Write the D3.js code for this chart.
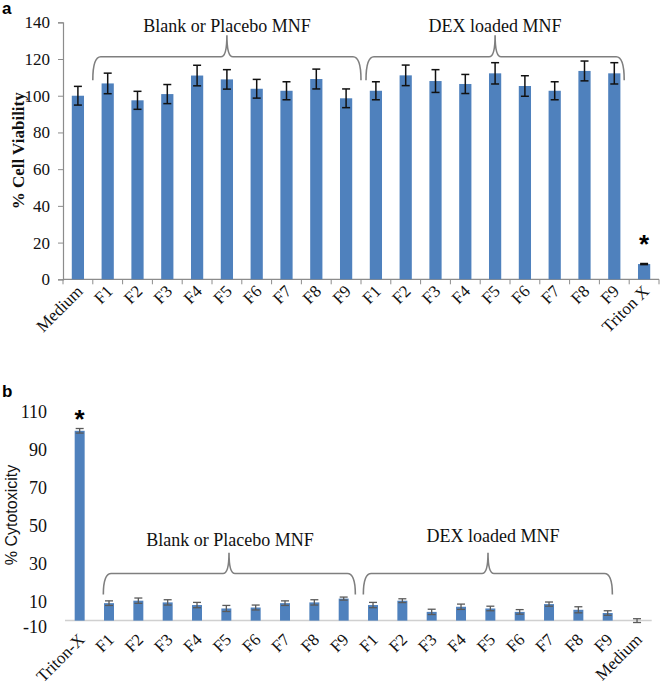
<!DOCTYPE html>
<html><head><meta charset="utf-8">
<script src="https://cdn.jsdelivr.net/npm/d3@7"></script>
<style>body{margin:0;background:#fff}</style>
</head><body>
<script>
// ---------- Data ----------
const catsA = ["Medium","F1","F2","F3","F4","F5","F6","F7","F8","F9","F1","F2","F3","F4","F5","F6","F7","F8","F9","Triton X"];
const valsA = [100,106.7,97.5,100.9,111,108.9,103.8,102.7,109.1,98.6,102.7,111.1,108,106.4,112.2,105.3,102.7,113.5,112.2,8.3];
const errA  = [5.1,5.6,4.9,5.2,5.6,5.3,5.1,4.9,5.4,5.1,4.9,5.6,6.2,5.2,5.8,5.6,4.9,5.4,5.8,0.3];
const ticksA = [0,20,40,60,80,100,120,140];

const catsB = ["Triton-X","F1","F2","F3","F4","F5","F6","F7","F8","F9","F1","F2","F3","F4","F5","F6","F7","F8","F9","Medium"];
const valsB = [100,9.2,10.5,9.6,8.2,6.4,6.9,9.2,9.6,11.6,8.2,10.5,4.6,7.3,6.4,4.6,8.7,5.7,4.0,0];
const errB  = [1.2,1.2,1.4,1.4,1.4,1.6,1.3,1.2,1.4,0.8,1.4,1.0,1.4,1.4,1.2,1.2,1.1,1.6,1.2,1.0];
const ticksB = [-10,10,30,50,70,90,110];

const groupLabels = ["Blank or Placebo MNF","DEX loaded MNF"];

// ---------- Setup ----------
const W = 661, H = 685;
const svg = d3.select("body").append("svg").attr("width",W).attr("height",H)
  .style("font-family","'Liberation Serif','Times New Roman',serif");
const BAR = "#4f81bd";
const serif = "'Liberation Serif','Times New Roman',serif";

function brace(g, x0, x1, xm, yb, yh, yp){
  const p = d3.path();
  const r = 8;
  p.moveTo(x0, yb);
  p.quadraticCurveTo(x0, yh, x0 + r, yh);
  p.lineTo(xm - 6, yh);
  p.quadraticCurveTo(xm, yh, xm, yp);
  p.quadraticCurveTo(xm, yh, xm + 6, yh);
  p.lineTo(x1 - r, yh);
  p.quadraticCurveTo(x1, yh, x1, yb);
  g.append("path").attr("d", p.toString()).attr("fill","none")
    .attr("stroke","#7f7f7f").attr("stroke-width",1.6);
}

// ---------- Panel a ----------
{
  const idx = d3.range(catsA.length);
  const x = d3.scaleBand().domain(idx).range([63, 659]).paddingInner(0.59).paddingOuter(0.295);
  const xe = d3.scaleBand().domain(idx).range([63, 659]); // edges for ticks
  const y = d3.scaleLinear().domain([0,140]).range([279.3, 22.3]);
  const g = svg.append("g");

  // y axis
  const ya = g.append("g").attr("transform","translate(63,0)")
    .call(d3.axisLeft(y).tickValues(ticksA).tickSize(5).tickPadding(8));
  ya.select(".domain").attr("stroke","#8c8c8c").attr("stroke-width",1.2);
  ya.selectAll(".tick line").attr("stroke","#8c8c8c");
  ya.selectAll("text").attr("font-family",serif).attr("font-size",17).attr("fill","#111");

  // x axis line and ticks
  const xa = g.append("g").attr("transform",`translate(0,${y(0)})`);
  xa.append("line").attr("x1",63).attr("x2",659).attr("stroke","#8c8c8c").attr("stroke-width",1.2);
  xa.selectAll("line.t").data(d3.range(catsA.length+1)).join("line").attr("class","t")
    .attr("x1",d=> d<catsA.length ? xe(d) : xe(catsA.length-1)+xe.bandwidth())
    .attr("x2",d=> d<catsA.length ? xe(d) : xe(catsA.length-1)+xe.bandwidth())
    .attr("y1",0).attr("y2",5).attr("stroke","#8c8c8c");

  // bars
  g.selectAll("rect.bar").data(idx).join("rect").attr("class","bar")
    .attr("x",i=>x(i)).attr("width",x.bandwidth())
    .attr("y",i=>y(valsA[i])).attr("height",i=>y(0)-y(valsA[i])).attr("fill",BAR);

  // error bars
  const eb = g.selectAll("g.err").data(idx).join("g").attr("class","err")
    .attr("stroke","#111").attr("stroke-width",1.5);
  eb.append("line").attr("x1",i=>x(i)+x.bandwidth()/2).attr("x2",i=>x(i)+x.bandwidth()/2)
    .attr("y1",i=>y(valsA[i]+errA[i])).attr("y2",i=>y(valsA[i]-errA[i]));
  eb.append("line").attr("x1",i=>x(i)+x.bandwidth()/2-4).attr("x2",i=>x(i)+x.bandwidth()/2+4)
    .attr("y1",i=>y(valsA[i]+errA[i])).attr("y2",i=>y(valsA[i]+errA[i]));
  eb.append("line").attr("x1",i=>x(i)+x.bandwidth()/2-4).attr("x2",i=>x(i)+x.bandwidth()/2+4)
    .attr("y1",i=>y(valsA[i]-errA[i])).attr("y2",i=>y(valsA[i]-errA[i]));

  // x labels
  g.selectAll("text.xl").data(idx).join("text").attr("class","xl")
    .attr("transform",i=>`translate(${x(i)+x.bandwidth()/2+6},${y(0)+13}) rotate(-45)`)
    .attr("text-anchor","end").attr("font-size",17).attr("fill","#111").text(i=>catsA[i]);

  // asterisk
  const last = catsA.length-1;
  g.append("text").attr("x",x(last)+x.bandwidth()/2).attr("y",y(valsA[last])+3-14)
    .attr("text-anchor","middle").attr("font-family","'Liberation Sans',Arial,sans-serif")
    .attr("font-size",26).attr("font-weight","bold").text("*");

  // braces
  brace(g, xe(1), xe(9)+xe.bandwidth(), (xe(1)+xe(9)+xe.bandwidth())/2 - 0, y(108.5), y(121.2), y(133));
  brace(g, xe(10)+5, xe(18)+xe.bandwidth()-5, (xe(10)+xe(18)+xe.bandwidth())/2, y(108.5), y(121.2), y(133));
  g.append("text").attr("x",(xe(1)+xe(9)+xe.bandwidth())/2).attr("y",y(134.5))
    .attr("text-anchor","middle").attr("font-size",18).attr("fill","#111").text(groupLabels[0]);
  g.append("text").attr("x",(xe(10)+xe(18)+xe.bandwidth())/2).attr("y",y(134.5))
    .attr("text-anchor","middle").attr("font-size",18).attr("fill","#111").text(groupLabels[1]);

  // y title
  g.append("text").attr("transform",`translate(24,${y(70)}) rotate(-90)`)
    .attr("text-anchor","middle").attr("font-size",17).attr("font-weight","bold").attr("fill","#111")
    .text("% Cell Viability");
  // panel letter
  g.append("text").attr("x",2).attr("y",14).attr("font-family","'Liberation Sans',Arial,sans-serif")
    .attr("font-weight","bold").attr("font-size",17).text("a");
}

// ---------- Panel b ----------
{
  const idx = d3.range(catsB.length);
  const x = d3.scaleBand().domain(idx).range([65, 651.7]).paddingInner(0.66).paddingOuter(0.33);
  const xe = d3.scaleBand().domain(idx).range([65, 651.7]);
  const y = d3.scaleLinear().domain([-10,110]).range([639.6, 411.8]);
  const g = svg.append("g");

  // y labels
  g.selectAll("text.yl").data(ticksB).join("text").attr("class","yl")
    .attr("x",47).attr("y",d=>y(d)).attr("dy", d=> d<0 ? "-0.35em" : "0.35em")
    .attr("text-anchor","end").attr("font-size",18).attr("fill","#111").text(d=>d);

  // zero line
  g.append("line").attr("x1",65).attr("x2",651.7).attr("y1",y(0)).attr("y2",y(0))
    .attr("stroke","#d0d0d0").attr("stroke-width",1.5);

  // bars
  g.selectAll("rect.bar").data(idx).join("rect").attr("class","bar")
    .attr("x",i=>x(i)).attr("width",x.bandwidth())
    .attr("y",i=>y(Math.max(0,valsB[i]))).attr("height",i=>Math.abs(y(0)-y(valsB[i]))).attr("fill",BAR);

  // error bars
  const eb = g.selectAll("g.err").data(idx).join("g").attr("class","err")
    .attr("stroke","#5a5a5a").attr("stroke-width",1.3);
  eb.append("line").attr("x1",i=>x(i)+x.bandwidth()/2).attr("x2",i=>x(i)+x.bandwidth()/2)
    .attr("y1",i=>y(valsB[i]+errB[i])).attr("y2",i=>y(valsB[i]-errB[i]));
  eb.append("line").attr("x1",i=>x(i)+x.bandwidth()/2-4).attr("x2",i=>x(i)+x.bandwidth()/2+4)
    .attr("y1",i=>y(valsB[i]+errB[i])).attr("y2",i=>y(valsB[i]+errB[i]));
  eb.append("line").attr("x1",i=>x(i)+x.bandwidth()/2-4).attr("x2",i=>x(i)+x.bandwidth()/2+4)
    .attr("y1",i=>y(valsB[i]-errB[i])).attr("y2",i=>y(valsB[i]-errB[i]));

  // x labels
  g.selectAll("text.xl").data(idx).join("text").attr("class","xl")
    .attr("transform",i=>`translate(${x(i)+x.bandwidth()/2+6},${y(0)+20}) rotate(-45)`)
    .attr("text-anchor","end").attr("font-size",17).attr("fill","#111").text(i=>catsB[i]);

  // asterisk
  g.append("text").attr("x",x(0)+x.bandwidth()/2).attr("y",y(valsB[0])-3)
    .attr("text-anchor","middle").attr("font-family","'Liberation Sans',Arial,sans-serif")
    .attr("font-size",26).attr("font-weight","bold").text("*");

  // braces
  const l1 = xe(1)+9, r1 = xe(9)+xe.bandwidth()-3;
  const l2 = xe(10)+5, r2 = xe(18)+xe.bandwidth()-10;
  brace(g, l1, r1, 229, y(13.8), y(24.8), y(35.8));
  brace(g, l2, r2, 488, y(13.8), y(24.8), y(35.8));
  g.append("text").attr("x",230).attr("y",y(39.5))
    .attr("text-anchor","middle").attr("font-size",18).attr("fill","#111").text(groupLabels[0]);
  g.append("text").attr("x",493).attr("y",y(41.5))
    .attr("text-anchor","middle").attr("font-size",18).attr("fill","#111").text(groupLabels[1]);

  // y title
  g.append("text").attr("transform",`translate(17,515) rotate(-90)`)
    .attr("text-anchor","middle").attr("font-family","'Liberation Sans',Arial,sans-serif")
    .attr("font-size",16).attr("fill","#111").text("% Cytotoxicity");
  g.append("text").attr("x",2).attr("y",397).attr("font-family","'Liberation Sans',Arial,sans-serif")
    .attr("font-weight","bold").attr("font-size",17).text("b");
}
</script>
</body></html>
